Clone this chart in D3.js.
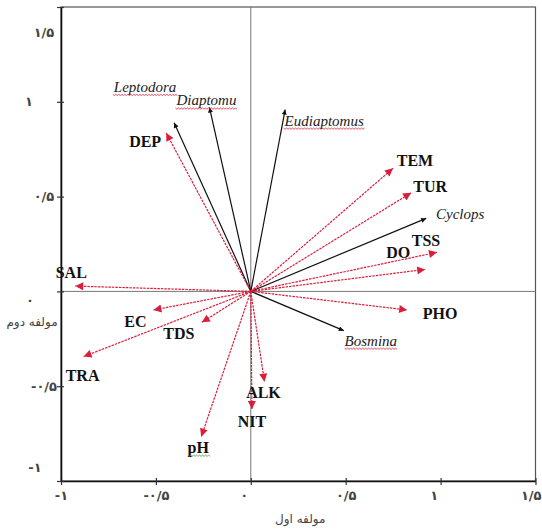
<!DOCTYPE html>
<html>
<head>
<meta charset="utf-8">
<script src="https://cdn.jsdelivr.net/npm/d3@7"></script>
<style>
  html, body { margin: 0; padding: 0; background: #fff; }
  svg { display: block; }
</style>
</head>
<body>
<svg id="chart" width="542" height="530"></svg>
<script>
// ---------- data ----------
const speciesNames = ["Leptodora", "Diaptomu", "Eudiaptomus", "Cyclops", "Bosmina"];
const speciesX = [-0.404, -0.218, 0.181, 0.924, 0.490];
const speciesY = [0.889, 0.970, 0.959, 0.385, -0.207];

const envNames = ["DEP", "TEM", "TUR", "TSS", "DO", "PHO", "SAL", "EC", "TDS", "TRA", "pH", "NIT", "ALK"];
const envX = [-0.446, 0.749, 0.845, 0.981, 0.919, 0.824, -0.925, -0.513, -0.258, -0.881, -0.261, 0.006, 0.072];
const envY = [0.836, 0.649, 0.520, 0.206, 0.116, -0.098, 0.028, -0.098, -0.163, -0.344, -0.766, -0.620, -0.476];

const tickValues = [-1, -0.5, 0, 0.5, 1, 1.5];
const tickLabels = ["-۱", "-۰/۵", "۰", "۰/۵", "۱", "۱/۵"];
const xTitle = "مولفه اول";
const yTitle = "مولفه دوم";

// ---------- layout / style ----------
const svg = d3.select("#chart");
const x = d3.scaleLinear().domain([-1, 1.5]).range([61, 535.5]);
const y = d3.scaleLinear().domain([-1, 1.5]).range([481, 7]);
const RED = "#d81e3a";
const SERIF = "'Liberation Serif', 'Times New Roman', serif";
const SANS = "'DejaVu Sans', sans-serif";

// label offsets in px (text-anchor middle, baseline)
const labelOffset = {
  Leptodora: [-29, -31], Diaptomu: [-3, -2], Eudiaptomus: [39, 16], Cyclops: [34, 1], Bosmina: [27, 15],
  DEP: [-21, 14], TEM: [22, -2], TUR: [19, -1], TSS: [-11, -6], DO: [-27, -11], PHO: [33, 9],
  SAL: [-4, -8], EC: [-18, 17], TDS: [-23, 17], TRA: [-1, 24], pH: [-3, 16], NIT: [0, 18], ALK: [-1, 16]
};
const squiggle = { Leptodora: RED, Diaptomu: RED, Eudiaptomus: RED, Bosmina: RED, pH: "#3a9a3a" };

// markers
const defs = svg.append("defs");
defs.append("marker").attr("id", "headRed")
  .attr("markerUnits", "userSpaceOnUse").attr("viewBox", "0 0 10 10")
  .attr("refX", 10).attr("refY", 5).attr("markerWidth", 10).attr("markerHeight", 8)
  .attr("orient", "auto")
  .append("path").attr("d", "M0,0 L10,5 L0,10 z").attr("fill", RED);
defs.append("marker").attr("id", "headBlack")
  .attr("markerUnits", "userSpaceOnUse").attr("viewBox", "0 0 10 10")
  .attr("refX", 10).attr("refY", 5).attr("markerWidth", 7).attr("markerHeight", 5)
  .attr("orient", "auto")
  .append("path").attr("d", "M0,0 L10,5 L0,10 z").attr("fill", "#111");

// frame (top/right)
svg.append("rect")
  .attr("x", x(-1)).attr("y", y(1.5))
  .attr("width", x(1.5) - x(-1)).attr("height", y(-1) - y(1.5))
  .attr("fill", "none").attr("stroke", "#555").attr("stroke-width", 1.2);

// zero lines
svg.append("line").attr("x1", x(0)).attr("x2", x(0)).attr("y1", y(1.5)).attr("y2", y(-1))
  .attr("stroke", "#777").attr("stroke-width", 1);
svg.append("line").attr("x1", x(-1)).attr("x2", x(1.5)).attr("y1", y(0)).attr("y2", y(0))
  .attr("stroke", "#777").attr("stroke-width", 1);

// axes
const fmt = d => tickLabels[tickValues.indexOf(d)];
const xAxis = svg.append("g").attr("transform", `translate(0,${y(-1)})`)
  .call(d3.axisBottom(x).tickValues(tickValues).tickFormat(fmt).tickSize(4).tickSizeOuter(0));
const yAxis = svg.append("g").attr("transform", `translate(${x(-1)},0)`)
  .call(d3.axisLeft(y).tickValues(tickValues).tickFormat(fmt).tickSize(4).tickSizeOuter(0));

[xAxis, yAxis].forEach(g => {
  g.select(".domain").attr("stroke", "#111").attr("stroke-width", 1.6);
  g.selectAll(".tick line").attr("stroke", "#333").attr("stroke-width", 1.2);
  g.selectAll(".tick text").attr("font-family", SANS)
    .attr("font-size", 13).attr("font-weight", "bold").attr("fill", "#444").attr("direction", "ltr");
});
xAxis.selectAll(".tick line").attr("y1", -3).attr("y2", 4);
yAxis.selectAll(".tick line").attr("x1", 3).attr("x2", -4);
const xShift = { "0": -7, "1": -7 };
xAxis.selectAll(".tick text").attr("y", 10)
  .attr("dx", d => xShift[String(d)] || 0)
  .filter(d => d === 1.5).attr("text-anchor", "end").attr("dx", 0)
  .attr("x", 541 - x(1.5));
const yShift = { "1.5": 25, "0": 9, "-1": -14 };
const yXShift = { "1": -15, "0": -14, "-1": -9 };
yAxis.selectAll(".tick text").attr("text-anchor", "middle")
  .attr("x", d => -17 + (yXShift[String(d)] || 0))
  .attr("dy", d => (yShift[String(d)] || 0) + 4);

// axis titles
svg.append("text").attr("x", (x(0) + x(0.5)) / 2 + 2).attr("y", 523)
  .attr("text-anchor", "middle").attr("font-family", SANS)
  .attr("font-size", 12).attr("fill", "#444").text(xTitle);
svg.append("text").attr("x", 32).attr("y", 326)
  .attr("text-anchor", "middle").attr("font-family", SANS)
  .attr("font-size", 12).attr("fill", "#444").text(yTitle);

// arrows
const env = envNames.map((n, i) => ({ name: n, x: envX[i], y: envY[i], type: "env" }));
const sp = speciesNames.map((n, i) => ({ name: n, x: speciesX[i], y: speciesY[i], type: "sp" }));

svg.append("g").selectAll("line").data(sp).join("line")
  .attr("x1", x(0)).attr("y1", y(0))
  .attr("x2", d => x(d.x)).attr("y2", d => y(d.y))
  .attr("stroke", "#111").attr("stroke-width", 1.2)
  .attr("marker-end", "url(#headBlack)");

svg.append("g").selectAll("line").data(env).join("line")
  .attr("x1", x(0)).attr("y1", y(0))
  .attr("x2", d => x(d.x)).attr("y2", d => y(d.y))
  .attr("stroke", RED).attr("stroke-width", 1.2).attr("stroke-dasharray", "2.5,1")
  .attr("marker-end", "url(#headRed)");

// labels
function addLabels(data, italic) {
  const g = svg.append("g");
  data.forEach(d => {
    const off = labelOffset[d.name];
    const t = g.append("text")
      .attr("x", x(d.x) + off[0]).attr("y", y(d.y) + off[1])
      .attr("text-anchor", "middle")
      .style("font-family", SERIF)
      .attr("font-size", italic ? 15 : 16)
      .attr("font-style", italic ? "italic" : "normal")
      .attr("font-weight", italic ? "normal" : "bold")
      .attr("fill", italic ? "#222" : "#111")
      .text(d.name);
    if (squiggle[d.name]) {
      const bb = t.node().getBBox();
      const by = y(d.y) + off[1] + 2.5;
      let p = `M${bb.x},${by}`;
      for (let px = bb.x, k = 0; px < bb.x + bb.width; px += 1.5, k++) {
        p += ` L${px + 1.5},${by + (k % 2 ? 0 : 1.2)}`;
      }
      g.append("path").attr("d", p).attr("fill", "none")
        .attr("stroke", squiggle[d.name]).attr("stroke-width", 0.8);
    }
  });
}
addLabels(env, false);
addLabels(sp, true);
</script>
</body>
</html>
